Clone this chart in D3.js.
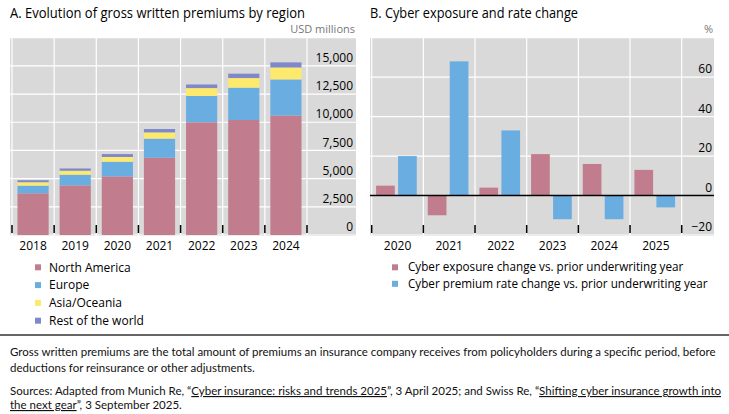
<!DOCTYPE html>
<html>
<head>
<meta charset="utf-8">
<script src="https://cdn.jsdelivr.net/npm/d3@7"></script>
<style>
  body { margin: 0; background: #fff; }
  svg { display: block; font-family: "Open Sans", sans-serif; }
</style>
</head>
<body>
<svg id="chart" width="729" height="414"></svg>
<script>
// panel A: gross written premiums, USD millions
const regionYears = ["2018", "2019", "2020", "2021", "2022", "2023", "2024"];
const northAmerica = [3700, 4400, 5200, 6850, 10000, 10200, 10600];
const europe = [680, 950, 1300, 1700, 2330, 2870, 3200];
const asiaOceania = [300, 350, 420, 550, 700, 850, 1060];
const restOfWorld = [180, 200, 260, 300, 320, 390, 450];
const regionNames = ["North America", "Europe", "Asia/Oceania", "Rest of the world"];
const regionTicks = [0, 2500, 5000, 7500, 10000, 12500, 15000];

// panel B: cyber exposure and rate change, %
const cyberYears = ["2020", "2021", "2022", "2023", "2024", "2025"];
const exposureChange = [5, -10, 4, 21, 16, 13];
const premiumRateChange = [20, 68, 33, -12, -12, -6];
const cyberNames = ["Cyber exposure change vs. prior underwriting year",
                    "Cyber premium rate change vs. prior underwriting year"];
const cyberTicks = [-20, 0, 20, 40, 60];

const colors = ["#c17d8d", "#6aade1", "#fde96c", "#7f89c9"];
const bg = "#d9d9d9";

let svg = d3.select("#chart");

// ---------- panel A ----------
let a = {left: 10, right: 356, top: 37, bottom: 236};
let xA = d3.scaleBand().domain(regionYears).range([12, 307]).paddingInner(0.26).paddingOuter(0.13);
let yA = d3.scaleLinear().domain([0, 17500]).range([235, 37.7]);

svg.append("text").attr("x", 10).attr("y", 17.5).attr("font-size", 15).attr("fill", "#000")
    .attr("textLength", 295).attr("lengthAdjust", "spacingAndGlyphs")
    .text("A. Evolution of gross written premiums by region");
svg.append("text").attr("x", 355).attr("y", 33).attr("text-anchor", "end").attr("font-size", 11).attr("fill", "#777")
    .text("USD millions");

svg.append("rect").attr("x", a.left).attr("y", a.top).attr("width", a.right - a.left).attr("height", a.bottom - a.top).attr("fill", bg);

let gA = svg.append("g");
gA.selectAll("line.h").data(d3.range(0, 17501, 2500)).enter().append("line")
    .attr("x1", a.left).attr("x2", a.right)
    .attr("y1", d => yA(d)).attr("y2", d => yA(d))
    .attr("stroke", "#fff").attr("stroke-width", 1.2);
let stepA = xA.step();
let boundsA = d3.range(regionYears.length + 1).map(i => 12 + i * stepA);
gA.selectAll("line.v").data(boundsA).enter().append("line")
    .attr("x1", d => d).attr("x2", d => d).attr("y1", a.top).attr("y2", a.bottom)
    .attr("stroke", "#fff").attr("stroke-width", 1.2);

let rows = regionYears.map((yr, i) => ({year: yr, na: northAmerica[i], eu: europe[i], as: asiaOceania[i], rw: restOfWorld[i]}));
let stackA = d3.stack().keys(["na", "eu", "as", "rw"])(rows);
gA.append("g").selectAll("g").data(stackA).enter().append("g")
    .attr("fill", (d, i) => colors[i])
    .selectAll("rect").data(d => d).enter().append("rect")
    .attr("x", d => xA(d.data.year))
    .attr("y", d => yA(d[1]))
    .attr("height", d => yA(d[0]) - yA(d[1]))
    .attr("width", xA.bandwidth());

gA.selectAll("line.t").data(boundsA).enter().append("line")
    .attr("x1", d => d).attr("x2", d => d).attr("y1", 225).attr("y2", 233)
    .attr("stroke", "#000").attr("stroke-width", 1.5);

gA.selectAll("text.yl").data(regionTicks).enter().append("text")
    .attr("x", 353).attr("y", d => yA(d) - 8).attr("dy", "0.35em")
    .attr("text-anchor", "end").attr("font-size", 12).attr("fill", "#000")
    .text(d => d3.format(",")(d));

gA.append("g").attr("transform", "translate(0,236)")
    .call(d3.axisBottom(xA).tickSize(0).tickPadding(5))
    .call(g => g.select(".domain").remove())
    .selectAll("text").attr("font-size", 12).attr("font-family", "Open Sans, sans-serif").attr("fill", "#000");

let legA = svg.append("g").selectAll("g").data(regionNames).enter().append("g")
    .attr("transform", (d, i) => "translate(0," + (267.3 + i * 17.8) + ")");
legA.append("rect").attr("x", 35).attr("y", -3).attr("width", 6).attr("height", 6).attr("fill", (d, i) => colors[i]);
legA.append("text").attr("x", 49).attr("dy", "0.35em").attr("font-size", 12).attr("fill", "#000").text(d => d);

// ---------- panel B ----------
let b = {left: 370, right: 714, top: 37, bottom: 236};
let xB = d3.scaleBand().domain(cyberYears).range([371.7, 681.7]);
let xSub = d3.scaleBand().domain(["exp", "prem"]).range([0, xB.step()]).paddingInner(0.15).paddingOuter(0.25).align(0.4);
let yB = d3.scaleLinear().domain([-20, 80]).range([235, 37.7]);

svg.append("text").attr("x", 370).attr("y", 17.5).attr("font-size", 15).attr("fill", "#000")
    .attr("textLength", 208).attr("lengthAdjust", "spacingAndGlyphs")
    .text("B. Cyber exposure and rate change");
svg.append("text").attr("x", 713).attr("y", 33).attr("text-anchor", "end").attr("font-size", 11).attr("fill", "#777")
    .text("%");

svg.append("rect").attr("x", b.left).attr("y", b.top).attr("width", b.right - b.left).attr("height", b.bottom - b.top).attr("fill", bg);

let gB = svg.append("g");
gB.selectAll("line.h").data(d3.range(-20, 81, 20)).enter().append("line")
    .attr("x1", b.left).attr("x2", b.right)
    .attr("y1", d => yB(d)).attr("y2", d => yB(d))
    .attr("stroke", "#fff").attr("stroke-width", 1.2);
let boundsB = d3.range(cyberYears.length + 1).map(i => 371.7 + i * xB.step());
gB.selectAll("line.v").data(boundsB).enter().append("line")
    .attr("x1", d => d).attr("x2", d => d).attr("y1", b.top).attr("y2", b.bottom)
    .attr("stroke", "#fff").attr("stroke-width", 1.2);

let cyberRows = cyberYears.map((yr, i) => ({year: yr, exp: exposureChange[i], prem: premiumRateChange[i]}));
gB.append("g").selectAll("g").data(cyberRows).enter().append("g")
    .attr("transform", d => "translate(" + xB(d.year) + ",0)")
    .selectAll("rect").data(d => ["exp", "prem"].map(k => ({key: k, value: d[k]}))).enter().append("rect")
    .attr("x", d => xSub(d.key))
    .attr("y", d => yB(Math.max(0, d.value)))
    .attr("height", d => Math.abs(yB(d.value) - yB(0)))
    .attr("width", xSub.bandwidth())
    .attr("fill", d => d.key == "exp" ? colors[0] : colors[1]);

gB.append("line").attr("x1", b.left).attr("x2", b.right).attr("y1", yB(0)).attr("y2", yB(0))
    .attr("stroke", "#000").attr("stroke-width", 1.5);

gB.selectAll("line.t").data(boundsB).enter().append("line")
    .attr("x1", d => d).attr("x2", d => d).attr("y1", 225).attr("y2", 233)
    .attr("stroke", "#000").attr("stroke-width", 1.5);

gB.selectAll("text.yl").data(cyberTicks).enter().append("text")
    .attr("x", 712).attr("y", d => yB(d) - 8).attr("dy", "0.35em")
    .attr("text-anchor", "end").attr("font-size", 12).attr("fill", "#000")
    .text(d => d < 0 ? "\u2212" + Math.abs(d) : d);

gB.append("g").attr("transform", "translate(0,236)")
    .call(d3.axisBottom(xB).tickSize(0).tickPadding(5))
    .call(g => g.select(".domain").remove())
    .selectAll("text").attr("font-size", 12).attr("font-family", "Open Sans, sans-serif").attr("fill", "#000");

let legB = svg.append("g").selectAll("g").data(cyberNames).enter().append("g")
    .attr("transform", (d, i) => "translate(0," + (267.3 + i * 16.5) + ")");
legB.append("rect").attr("x", 392).attr("y", -3).attr("width", 6).attr("height", 6).attr("fill", (d, i) => colors[i]);
legB.append("text").attr("x", 408).attr("dy", "0.35em").attr("font-size", 11.7).attr("fill", "#000").text(d => d);

// ---------- notes ----------
svg.append("line").attr("x1", 0).attr("x2", 729).attr("y1", 335).attr("y2", 335).attr("stroke", "#333").attr("stroke-width", 1.5);

function noteLine(y, parts) {
    let t = svg.append("text").attr("class", "note").attr("x", 10).attr("y", y).attr("font-size", 12)
        .attr("font-family", "Lato, sans-serif").attr("fill", "#111");
    parts.forEach(p => {
        t.append("tspan").attr("text-decoration", p[1] ? "underline" : null).text(p[0]);
    });
    return t;
}
let first = noteLine(356, [["Gross written premiums are the total amount of premiums an insurance company receives from policyholders during a specific period, before"]]);
noteLine(372, [["deductions for reinsurance or other adjustments."]]);
noteLine(395, [["Sources: Adapted from Munich Re, \u201C"], ["Cyber insurance: risks and trends 2025", true], ["\u201D, 3 April 2025; and Swiss Re, \u201C"], ["Shifting cyber insurance growth into", true]]);
noteLine(409, [["the next gear", true], ["\u201D, 3 September 2025."]]);
// fit the longest note line into the width used by the reference
let fit = 12 * 706 / first.node().getComputedTextLength();
svg.selectAll("text.note").attr("font-size", Math.min(12.5, fit));
</script>
</body>
</html>
